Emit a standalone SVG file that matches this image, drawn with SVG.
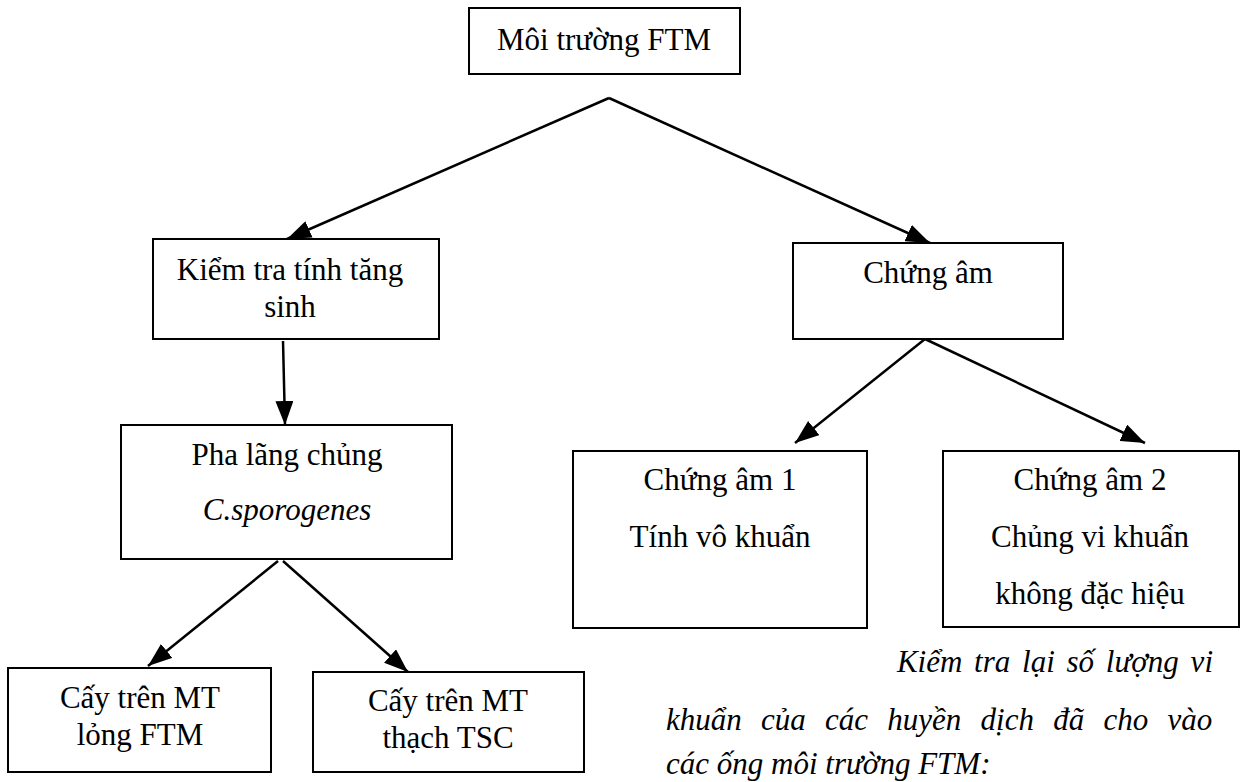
<svg xmlns="http://www.w3.org/2000/svg" width="1245" height="782" viewBox="0 0 1245 782">
<defs>
<marker id="ah" viewBox="0 0 24 18" refX="24" refY="9" markerWidth="24" markerHeight="18" markerUnits="userSpaceOnUse" orient="auto">
<path d="M0,0 L24,9 L0,18 z" fill="#000"/>
</marker>
<style>
.box{fill:#fff;stroke:#000;stroke-width:2}
.t{font-size:31px;fill:#000;text-anchor:middle}
.it{font-style:italic}
.con{stroke:#000;stroke-width:2.5;fill:none;marker-end:url(#ah)}
.para{font-size:31px;font-style:italic;fill:#000}
</style>
</defs>
<rect width="1245" height="782" fill="#fff"/>
<g id="connectors">
<line class="con" x1="609" y1="98" x2="287" y2="239"/>
<line class="con" x1="609" y1="98" x2="930" y2="243"/>
<line class="con" x1="283" y1="341" x2="285" y2="425"/>
<line class="con" x1="278" y1="561" x2="148" y2="666"/>
<line class="con" x1="283" y1="561" x2="408" y2="672"/>
<line class="con" x1="925" y1="339" x2="795" y2="443"/>
<line class="con" x1="925" y1="339" x2="1145" y2="443"/>
</g>
<g font-family="'Liberation Serif', 'Times New Roman', serif">
<g id="n-root">
<rect class="box" x="469" y="8" width="271" height="66"/>
<text class="t" x="604" y="50">Môi trường FTM</text>
</g>
<g id="n-kiemtra">
<rect class="box" x="153" y="239" width="286" height="100"/>
<text class="t" x="290" y="280">Kiểm tra tính tăng</text>
<text class="t" x="290" y="317">sinh</text>
</g>
<g id="n-pha">
<rect class="box" x="121" y="425" width="331" height="134"/>
<text class="t" x="287" y="465">Pha lãng chủng</text>
<text class="t it" x="287" y="520">C.sporogenes</text>
</g>
<g id="n-long">
<rect class="box" x="8" y="668" width="263" height="104"/>
<text class="t" x="140" y="708">Cấy trên MT</text>
<text class="t" x="140" y="745">lỏng FTM</text>
</g>
<g id="n-thach">
<rect class="box" x="313" y="672" width="271" height="100"/>
<text class="t" x="448" y="711">Cấy trên MT</text>
<text class="t" x="448" y="748">thạch TSC</text>
</g>
<g id="n-chungam">
<rect class="box" x="793" y="243" width="270" height="96"/>
<text class="t" x="928" y="283">Chứng âm</text>
</g>
<g id="n-chungam1">
<rect class="box" x="573" y="451" width="294" height="177"/>
<text class="t" x="720" y="490">Chứng âm 1</text>
<text class="t" x="720" y="547">Tính vô khuẩn</text>
</g>
<g id="n-chungam2">
<rect class="box" x="943" y="451" width="296" height="176"/>
<text class="t" x="1090" y="490">Chứng âm 2</text>
<text class="t" x="1090" y="547">Chủng vi khuẩn</text>
<text class="t" x="1090" y="604">không đặc hiệu</text>
</g>
<g id="note">
<text class="para" x="1213" y="672" text-anchor="end" word-spacing="4">Kiểm tra lại số lượng vi</text>
<text class="para" x="666" y="730" word-spacing="11.5">khuẩn của các huyền dịch đã cho vào</text>
<text class="para" x="666" y="774">các ống môi trường FTM:</text>
</g>
</g>
</svg>
